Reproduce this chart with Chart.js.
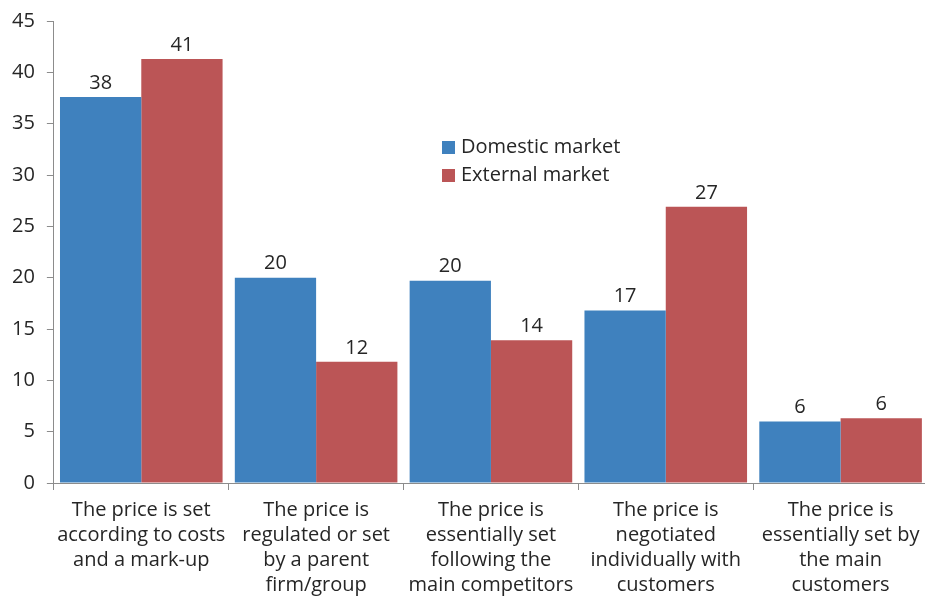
<!DOCTYPE html>
<html>
<head>
<meta charset="utf-8">
<script src="https://cdn.jsdelivr.net/npm/chart.js@4.4.1/dist/chart.umd.min.js"></script>
<style>
  html, body { margin: 0; padding: 0; background: #fff; overflow: hidden; }
  #wrap { width: 928px; height: 606px; position: relative; }
</style>
</head>
<body>
<div id="wrap"><canvas id="priceChart"></canvas></div>
<script>
// Categorías (etiquetas del eje x, en varias líneas)
const categories = [
    ['The price is set', 'according to costs', 'and a mark-up'],
    ['The price is', 'regulated or set', 'by a parent', 'firm/group'],
    ['The price is', 'essentially set', 'following the', 'main competitors'],
    ['The price is', 'negotiated', 'individually with', 'customers'],
    ['The price is', 'essentially set by', 'the main', 'customers']
];

// Valores
const domesticValues = [37.6, 20.0, 19.7, 16.8, 6.0];
const externalValues = [41.3, 11.8, 13.9, 26.9, 6.3];

// Etiquetas del eje y
const yTicks = [0, 5, 10, 15, 20, 25, 30, 35, 40, 45];

const textColor = '#262626';
const axisColor = '#8c8c8c';
const fontFamily = '"Open Sans", "Noto Sans", sans-serif';

// Plugin para dibujar los valores encima de las barras
const valueLabels = {
    id: 'valueLabels',
    afterDatasetsDraw(chart) {
        const ctx = chart.ctx;
        ctx.save();
        ctx.font = '20px ' + fontFamily;
        ctx.fillStyle = textColor;
        ctx.textAlign = 'center';
        ctx.textBaseline = 'bottom';
        chart.data.datasets.forEach((ds, i) => {
            chart.getDatasetMeta(i).data.forEach((bar, j) => {
                ctx.fillText(Math.round(ds.data[j]), bar.x, bar.y - 4);
            });
        });
        ctx.restore();
    }
};

// Leyenda propia dentro del área del gráfico
const innerLegend = {
    id: 'innerLegend',
    afterDraw(chart) {
        const ctx = chart.ctx;
        ctx.save();
        ctx.font = '20px ' + fontFamily;
        ctx.textBaseline = 'middle';
        chart.data.datasets.forEach((ds, i) => {
            const y = 147 + i * 28;
            ctx.fillStyle = ds.backgroundColor;
            ctx.fillRect(442, y - 6, 13, 13);
            ctx.fillStyle = textColor;
            ctx.fillText(ds.label, 461, y);
        });
        ctx.restore();
    }
};

const ctx = document.getElementById('priceChart').getContext('2d');
new Chart(ctx, {
    type: 'bar',
    data: {
        labels: categories,
        datasets: [{
            label: 'Domestic market',
            data: domesticValues,
            backgroundColor: '#3F81BE'
        }, {
            label: 'External market',
            data: externalValues,
            backgroundColor: '#BB5556'
        }]
    },
    options: {
        responsive: true,
        maintainAspectRatio: false,
        animation: false,
        layout: { padding: { top: 2, left: 0, right: 0, bottom: 0 } },
        datasets: {
            bar: { categoryPercentage: 0.93, barPercentage: 1.0 }
        },
        plugins: {
            legend: { display: false },
            tooltip: { enabled: false }
        },
        scales: {
            x: {
                grid: {
                    offset: true,
                    drawOnChartArea: false,
                    color: axisColor,
                    tickLength: 7
                },
                border: { color: axisColor },
                ticks: {
                    color: textColor,
                    font: { family: fontFamily, size: 20, lineHeight: 1.25 },
                    padding: 8,
                    maxRotation: 0,
                    autoSkip: false
                }
            },
            y: {
                min: 0,
                max: 45,
                afterBuildTicks(axis) {
                    axis.ticks = yTicks.map(v => ({ value: v }));
                },
                grid: {
                    drawOnChartArea: false,
                    color: axisColor,
                    tickLength: 7
                },
                border: { color: axisColor },
                ticks: {
                    color: textColor,
                    font: { family: fontFamily, size: 20, lineHeight: 0.9 },
                    padding: 12
                }
            }
        }
    },
    plugins: [valueLabels, innerLegend]
});
</script>
</body>
</html>
